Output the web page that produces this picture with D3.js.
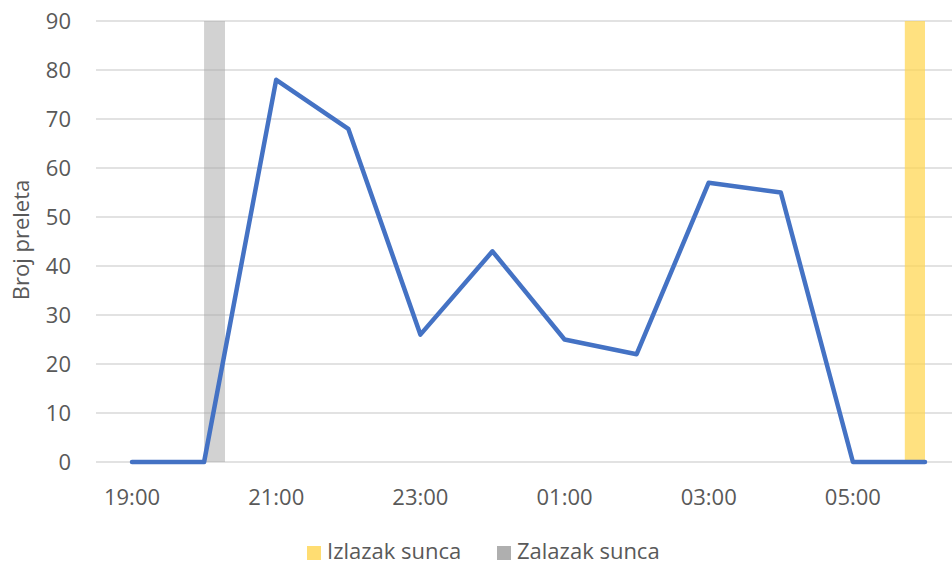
<!DOCTYPE html>
<html>
<head>
<meta charset="utf-8">
<script src="https://cdn.jsdelivr.net/npm/d3@7"></script>
<style>
  html, body { margin: 0; padding: 0; background: #fff; }
  svg text { font-family: "Open Sans", "Noto Sans", sans-serif; fill: #595959; }
</style>
</head>
<body>
<svg id="chart" width="952" height="565"></svg>
<script>
// Hourly flight counts through the night
const hours = ["19:00","20:00","21:00","22:00","23:00","00:00","01:00","02:00","03:00","04:00","05:00","06:00"];
const flights = [0, 0, 78, 68, 26, 43, 25, 22, 57, 55, 0, 0];
const yTicks = [0,10,20,30,40,50,60,70,80,90];
const xTickLabels = ["19:00","21:00","23:00","01:00","03:00","05:00"];

// Sunrise / sunset bands, as start/end positions on the hour index
const bandNames = ["Izlazak sunca", "Zalazak sunca"];
const bandColors = ["#ffd54f", "#a6a6a6"];
const bandOpacity = [0.72, 0.5];
const bandStart = [10.72, 1.0];
const bandEnd = [11.0, 1.29];

const svg = d3.select("#chart");
const plotLeft = 96, plotRight = 952, plotTop = 21, plotBottom = 462;
const fs = 22;

const x = d3.scaleLinear().domain([0, hours.length - 1]).range([132, 925]);
const y = d3.scaleLinear().domain([0, 90]).range([plotBottom, plotTop]);

// gridlines
svg.append("g")
  .selectAll("line")
  .data(yTicks)
  .join("line")
  .attr("x1", plotLeft).attr("x2", plotRight)
  .attr("y1", d => y(d)).attr("y2", d => y(d))
  .attr("stroke", "#d9d9d9").attr("stroke-width", 1.3);

// y labels
svg.append("g")
  .selectAll("text")
  .data(yTicks)
  .join("text")
  .attr("x", 71).attr("y", d => y(d) + 8)
  .attr("text-anchor", "end")
  .attr("font-size", fs)
  .text(d => d);

// x labels
svg.append("g")
  .selectAll("text")
  .data(xTickLabels)
  .join("text")
  .attr("x", d => x(hours.indexOf(d)))
  .attr("y", 505)
  .attr("text-anchor", "middle")
  .attr("font-size", fs)
  .text(d => d);

// axis title
svg.append("text")
  .attr("transform", "translate(29,240) rotate(-90)")
  .attr("text-anchor", "middle")
  .attr("font-size", fs)
  .text("Broj preleta");

// sunrise / sunset bands
svg.append("g")
  .selectAll("rect")
  .data(bandNames.map((n, i) => i))
  .join("rect")
  .attr("x", i => x(bandStart[i]))
  .attr("width", i => x(bandEnd[i]) - x(bandStart[i]))
  .attr("y", y(90))
  .attr("height", y(0) - y(90))
  .attr("fill", i => bandColors[i])
  .attr("fill-opacity", i => bandOpacity[i]);

// flight line
const line = d3.line().x((d, i) => x(i)).y(d => y(d));
svg.append("path")
  .datum(flights)
  .attr("d", line)
  .attr("fill", "none")
  .attr("stroke", "#4472c4")
  .attr("stroke-width", 4.5)
  .attr("stroke-linejoin", "round")
  .attr("stroke-linecap", "round");

// legend
const legendX = [307, 497];
const lg = svg.append("g")
  .selectAll("g")
  .data(bandNames.map((n, i) => i))
  .join("g")
  .attr("transform", i => `translate(${legendX[i]},546)`);
lg.append("rect")
  .attr("width", 14).attr("height", 14)
  .attr("fill", i => bandColors[i])
  .attr("fill-opacity", i => i === 0 ? 0.8 : 0.9);
lg.append("text")
  .attr("x", 20).attr("y", 13)
  .attr("font-size", fs)
  .text(i => bandNames[i]);
</script>
</body>
</html>
